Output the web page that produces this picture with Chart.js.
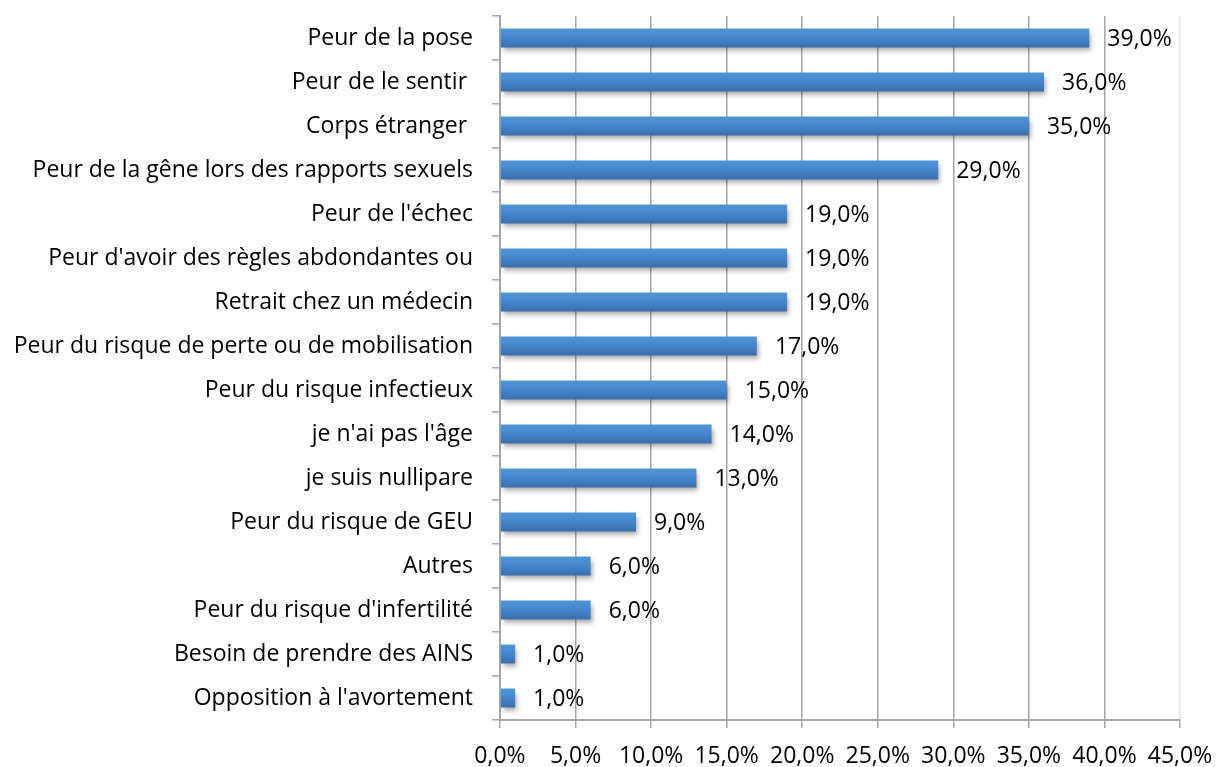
<!DOCTYPE html>
<html>
<head>
<meta charset="utf-8">
<script src="https://cdn.jsdelivr.net/npm/chart.js@4/dist/chart.umd.min.js"></script>
<style>
  html, body { margin: 0; padding: 0; background: #fff; }
  #wrap { width: 1217px; height: 767px; }
</style>
</head>
<body>
<div id="wrap"><canvas id="myChart" width="1217" height="767"></canvas></div>
<script>
  // categories, top to bottom
  const categories = [
    'Peur de la pose',
    'Peur de le sentir ',
    'Corps étranger ',
    'Peur de la gêne lors des rapports sexuels',
    "Peur de l'échec",
    "Peur d'avoir des règles abdondantes ou",
    'Retrait chez un médecin',
    'Peur du risque de perte ou de mobilisation',
    'Peur du risque infectieux',
    "je n'ai pas l'âge",
    'je suis nullipare',
    'Peur du risque de GEU',
    'Autres',
    "Peur du risque d'infertilité",
    'Besoin de prendre des AINS',
    "Opposition à l'avortement"
  ];

  // percent values
  const values = [39, 36, 35, 29, 19, 19, 19, 17, 15, 14, 13, 9, 6, 6, 1, 1];

  // x axis ticks
  const xTicks = [0, 5, 10, 15, 20, 25, 30, 35, 40, 45];

  const FONT = '"Open Sans", sans-serif';
  const FSIZE = 23;
  const BAR_FRACTION = 0.43;

  function fmt(v) {
    return v.toFixed(1).replace('.', ',') + '%';
  }

  // bar shadow like the old excel look
  const shadowPlugin = {
    id: 'barShadow',
    beforeDatasetsDraw(chart) {
      const ctx = chart.ctx;
      ctx.save();
      ctx.shadowColor = 'rgba(0,0,0,0.35)';
      ctx.shadowBlur = 5;
      ctx.shadowOffsetX = 2;
      ctx.shadowOffsetY = 4;
    },
    afterDatasetsDraw(chart) {
      chart.ctx.restore();
    }
  };

  // value labels at the end of each bar
  const valueLabels = {
    id: 'valueLabels',
    afterDraw(chart) {
      const ctx = chart.ctx;
      const meta = chart.getDatasetMeta(0);
      ctx.save();
      ctx.font = FSIZE + 'px ' + FONT;
      ctx.fillStyle = '#000';
      ctx.textAlign = 'left';
      ctx.textBaseline = 'middle';
      meta.data.forEach(function(bar, i) {
        ctx.fillText(fmt(values[i]), bar.x + 18, bar.y + 1);
      });
      ctx.restore();
    }
  };

  const data = {
    labels: categories,
    datasets: [{
      data: values,
      backgroundColor: function(context) {
        const chart = context.chart;
        const ys = chart.scales.y;
        if (!ys || context.dataIndex === undefined) return '#4586cc';
        const cy = ys.getPixelForValue(context.dataIndex);
        const step = ys.height / categories.length;
        const h = step * BAR_FRACTION;
        if (!isFinite(cy) || !isFinite(h)) return '#4586cc';
        const g = chart.ctx.createLinearGradient(0, cy - h / 2, 0, cy + h / 2);
        g.addColorStop(0, '#4f95da');
        g.addColorStop(0.5, '#4586cc');
        g.addColorStop(1, '#3a6ead');
        return g;
      },
      borderWidth: 0,
      barPercentage: 0.86,
      categoryPercentage: 0.5
    }]
  };

  const config = {
    type: 'bar',
    data: data,
    options: {
      indexAxis: 'y',
      responsive: false,
      animation: false,
      layout: { padding: { top: 16, right: 0, left: 12, bottom: 0 } },
      plugins: {
        legend: { display: false },
        tooltip: { enabled: false }
      },
      scales: {
        x: {
          min: 0,
          max: 45,
          afterBuildTicks: function(axis) {
            axis.ticks = xTicks.map(v => ({ value: v }));
          },
          afterFit: function(scale) {
            scale.height = 47;
            scale.paddingRight = 37;
          },
          ticks: {
            callback: v => fmt(v),
            color: '#000',
            font: { family: FONT, size: FSIZE },
            padding: 15,
            maxRotation: 0
          },
          grid: {
            color: function(ctx) {
              return ctx.tick && ctx.tick.value === 45 ? '#e4e4e4' : '#a6a6a6';
            },
            tickColor: '#a6a6a6',
            lineWidth: 1.5,
            tickLength: 8
          },
          border: { display: true, color: '#a6a6a6', width: 2 }
        },
        y: {
          afterFit: function(scale) {
            scale.width = 488;
            scale.paddingTop = 0;
            scale.paddingBottom = 0;
          },
          ticks: {
            color: '#000',
            font: { family: FONT, size: FSIZE },
            padding: 19
          },
          grid: {
            offset: true,
            drawOnChartArea: false,
            tickColor: '#a6a6a6',
            lineWidth: 1.5,
            tickLength: 8
          },
          border: { display: true, color: '#a6a6a6', width: 2 }
        }
      }
    },
    plugins: [shadowPlugin, valueLabels]
  };

  const myChart = new Chart(document.getElementById('myChart'), config);
</script>
</body>
</html>
